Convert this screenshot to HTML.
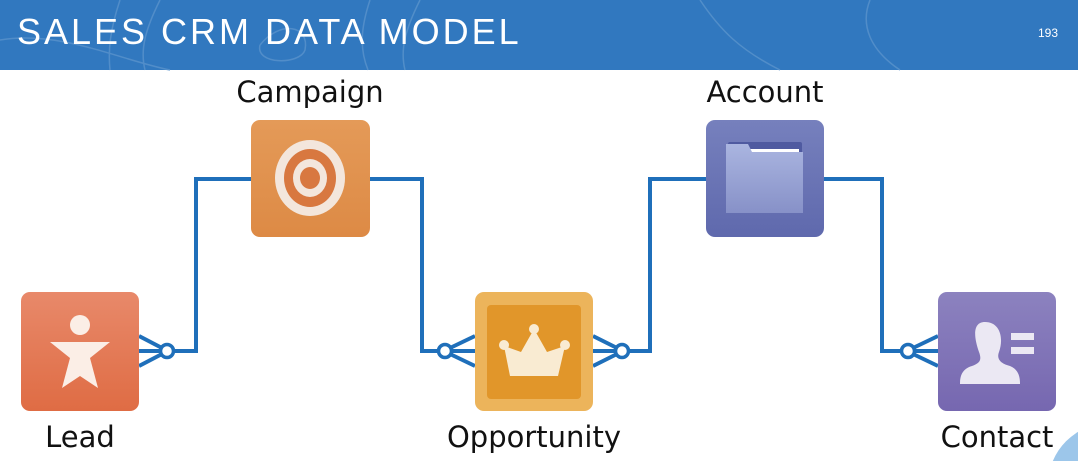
<!DOCTYPE html>
<html><head><meta charset="utf-8"><style>
html,body{margin:0;padding:0;width:1078px;height:461px;overflow:hidden;background:#fff}
svg{display:block;overflow:hidden}
</style></head><body>
<svg width="1078" height="461" viewBox="0 0 1078 461" xmlns="http://www.w3.org/2000/svg">
<defs>
<linearGradient id="gl" x1="0" y1="0" x2="0" y2="1"><stop offset="0" stop-color="#e8896a"/><stop offset="1" stop-color="#df6c44"/></linearGradient>
<linearGradient id="gc" x1="0" y1="0" x2="0" y2="1"><stop offset="0" stop-color="#e49a58"/><stop offset="1" stop-color="#dd8a45"/></linearGradient>
<linearGradient id="ga" x1="0" y1="0" x2="0" y2="1"><stop offset="0" stop-color="#7680bd"/><stop offset="1" stop-color="#5f69ad"/></linearGradient>
<linearGradient id="gf" x1="0" y1="0" x2="0" y2="1"><stop offset="0" stop-color="#aab5e0"/><stop offset="1" stop-color="#8791c8"/></linearGradient>
<linearGradient id="gt" x1="0" y1="0" x2="0" y2="1"><stop offset="0" stop-color="#8c82bf"/><stop offset="1" stop-color="#7667b0"/></linearGradient>
<clipPath id="cp"><rect x="0" y="0" width="1078" height="461"/></clipPath>
</defs>
<g clip-path="url(#cp)">
<rect x="0" y="0" width="1078" height="70" fill="#3178bf"/>
<g fill="none" stroke="#5a93cc" stroke-width="1.5" opacity="0.8">
<path d="M0 40 C60 30 120 60 170 70"/><path d="M120 0 C110 30 108 50 110 70"/>
<path d="M160 0 C145 30 140 50 145 70"/><path d="M260 45 C280 20 310 25 305 50 C300 65 255 65 260 45"/>
<path d="M370 0 C360 30 360 50 368 70"/><path d="M420 0 C405 30 400 50 405 70"/>
<path d="M700 0 C720 30 740 50 780 70"/><path d="M870 0 C860 25 870 50 900 70"/>
</g>
<text x="17" y="44" font-family="Liberation Sans, sans-serif" font-size="36" fill="#fff" letter-spacing="3.3" textLength="505" lengthAdjust="spacing">SALES CRM DATA MODEL</text>
<text x="1038" y="37" font-family="Liberation Sans, sans-serif" font-size="12" fill="#fff">193</text>

<g stroke="#1f6fba" stroke-width="4" fill="none">
<polyline points="139,351 161,351"/><polyline points="173,351 196,351 196,179 251,179"/>
<line x1="139" y1="336" x2="162" y2="348"/><line x1="139" y1="366" x2="162" y2="354"/>
<polyline points="370,179 422,179 422,351 439,351"/><line x1="451" y1="351" x2="475" y2="351"/>
<line x1="475" y1="336" x2="450" y2="348"/><line x1="475" y1="366" x2="450" y2="354"/>
<line x1="593" y1="351" x2="616" y2="351"/><polyline points="628,351 650,351 650,179 706,179"/>
<line x1="593" y1="336" x2="617" y2="348"/><line x1="593" y1="366" x2="617" y2="354"/>
<polyline points="824,179 882,179 882,351 902,351"/><line x1="914" y1="351" x2="938" y2="351"/>
<line x1="938" y1="336" x2="913" y2="348"/><line x1="938" y1="366" x2="913" y2="354"/>
</g>
<g fill="#fff" stroke="#1f6fba" stroke-width="3.5">
<circle cx="167" cy="351" r="6.5"/><circle cx="445" cy="351" r="6.5"/><circle cx="622" cy="351" r="6.5"/><circle cx="908" cy="351" r="6.5"/>
</g>

<rect x="21" y="292" width="118" height="119" rx="9" fill="url(#gl)"/>
<circle cx="80" cy="325" r="10" fill="#fbeee6"/>
<path d="M50 342 L110 342 L90 358 L98 388 L80 376 L62 388 L70 358 Z" fill="#fbeee6"/>

<rect x="251" y="120" width="119" height="117" rx="9" fill="url(#gc)"/>
<ellipse cx="310" cy="178" rx="35" ry="38" fill="#f3e6dc"/>
<ellipse cx="310" cy="178" rx="26" ry="29" fill="#d87840"/>
<ellipse cx="310" cy="178" rx="17" ry="19" fill="#f3e6dc"/>
<ellipse cx="310" cy="178" rx="10" ry="11" fill="#d87840"/>

<rect x="475" y="292" width="118" height="119" rx="9" fill="#ecb45b"/>
<rect x="487" y="305" width="94" height="94" rx="4" fill="#e1962a"/>
<path d="M504 346 L521 352 L534 329 L547 352 L565 346 L558 376 L510 376 Z" fill="#f9ebd2"/>
<circle cx="504" cy="345" r="5" fill="#f9ebd2"/><circle cx="534" cy="329" r="5" fill="#f9ebd2"/><circle cx="565" cy="345" r="5" fill="#f9ebd2"/>

<rect x="706" y="120" width="118" height="117" rx="9" fill="url(#ga)"/>
<rect x="728" y="142" width="74" height="60" rx="2" fill="#4f5aa0"/>
<rect x="735" y="149" width="64" height="12" fill="#fff"/>
<path d="M726 144 L748 144 L752 152 L803 152 L803 213 L726 213 Z" fill="url(#gf)"/>

<rect x="938" y="292" width="118" height="119" rx="9" fill="url(#gt)"/>
<path d="M985 322 C1000 322 1004 338 999 352 C996 360 1002 364 1010 366 C1020 370 1020 380 1020 384 L960 384 C960 376 962 369 972 366 C980 363 982 360 979 352 C974 338 972 322 985 322 Z" fill="#ebe8f3"/>
<rect x="1011" y="333" width="23" height="7" fill="#ebe8f3"/><rect x="1011" y="347" width="23" height="7" fill="#ebe8f3"/>
<circle cx="1110" cy="485" r="62" fill="#9cc6ea"/>

<g font-family="DejaVu Sans, Liberation Sans, sans-serif" font-size="29" fill="#111" text-anchor="middle">
<text x="310" y="102">Campaign</text>
<text x="765" y="102">Account</text>
<text x="80" y="447">Lead</text>
<text x="534" y="447">Opportunity</text>
<text x="997" y="447">Contact</text>
</g>
</g>
</svg>
</body></html>
